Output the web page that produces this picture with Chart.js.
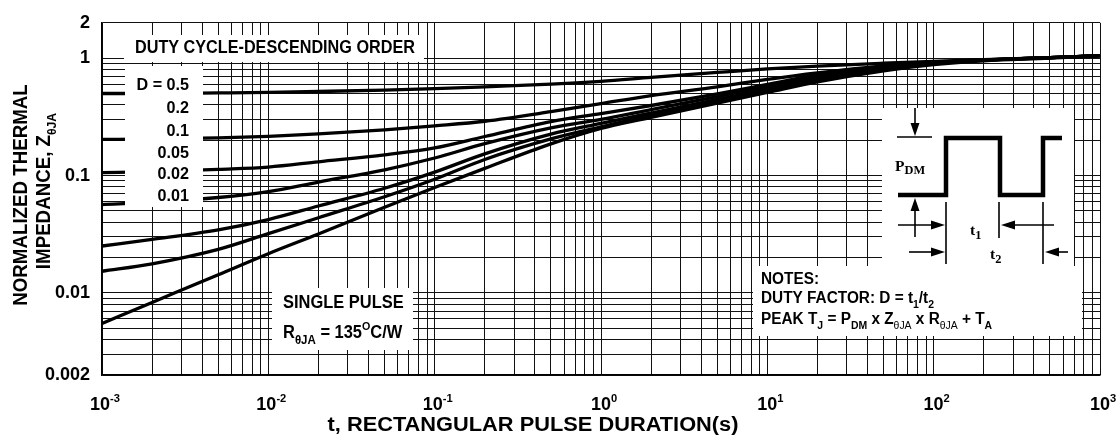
<!DOCTYPE html>
<html><head><meta charset="utf-8">
<script src="https://cdn.jsdelivr.net/npm/chart.js@4.4.0/dist/chart.umd.min.js"></script>
<style>html,body{margin:0;padding:0;background:#fff;}canvas{display:block;}</style>
</head><body>
<canvas id="c" width="1120" height="436"></canvas>
<script>
// ---- data ----
const pulseTimes = [0.001, 0.002, 0.005, 0.01, 0.02, 0.05, 0.1, 0.2, 0.5, 1, 2, 5, 10, 20, 50, 100, 200, 500, 1000];
const zD050 = [0.50, 0.50, 0.505, 0.51, 0.52, 0.535, 0.55, 0.57, 0.60, 0.635, 0.685, 0.755, 0.81, 0.855, 0.905, 0.94, 0.97, 1.01, 1.05];
const zD020 = [0.203, 0.205, 0.209, 0.216, 0.226, 0.245, 0.265, 0.29, 0.35, 0.41, 0.48, 0.57, 0.66, 0.75, 0.86, 0.925, 0.965, 1.01, 1.05];
const zD010 = [0.106, 0.108, 0.113, 0.118, 0.131, 0.150, 0.172, 0.215, 0.288, 0.337, 0.395, 0.495, 0.598, 0.72, 0.85, 0.92, 0.965, 1.01, 1.05];
const zD005 = [0.0566, 0.059, 0.065, 0.073, 0.088, 0.112, 0.141, 0.187, 0.255, 0.301, 0.365, 0.47, 0.571, 0.695, 0.83, 0.91, 0.96, 1.01, 1.05];
const zD002 = [0.0251, 0.0286, 0.0345, 0.0422, 0.055, 0.078, 0.107, 0.153, 0.225, 0.278, 0.341, 0.445, 0.544, 0.667, 0.81, 0.90, 0.96, 1.01, 1.05];
const zD001 = [0.0153, 0.0177, 0.0235, 0.032, 0.0437, 0.066, 0.093, 0.137, 0.205, 0.26, 0.327, 0.43, 0.53, 0.652, 0.80, 0.90, 0.96, 1.01, 1.05];
const zSingle = [0.0055, 0.0083, 0.0143, 0.0216, 0.0318, 0.0537, 0.079, 0.115, 0.186, 0.252, 0.313, 0.414, 0.51, 0.628, 0.78, 0.88, 0.95, 1.0, 1.05];
const seriesNames = ['D = 0.5', '0.2', '0.1', '0.05', '0.02', '0.01', 'SINGLE PULSE'];
const dutyLabels = ['D = 0.5', '0.2', '0.1', '0.05', '0.02', '0.01'];
const xDecadeExps = [-3, -2, -1, 0, 1, 2, 3];
const yLabelValues = [0.002, 0.01, 0.1, 1, 2];
const yLabelTexts = ['0.002', '0.01', '0.1', '1', '2'];
const X_MIN = 0.001, X_MAX = 1000, Y_MIN = 0.002, Y_MAX = 2;

// ---- grid tick lists (log grids) ----
const xGridTicks = [];
for (let e = -3; e < 3; e++) for (let m = 1; m <= 9; m++) xGridTicks.push(Number((m * Math.pow(10, e)).toPrecision(3)));
xGridTicks.push(1000);
const yGridTicks = [];
for (let m = 2; m <= 9; m++) yGridTicks.push(Number((m * 0.001).toPrecision(3)));
for (let e = -2; e < 0; e++) for (let m = 1; m <= 9; m++) yGridTicks.push(Number((m * Math.pow(10, e)).toPrecision(3)));
yGridTicks.push(1, 2);

const SANS = '"Liberation Sans", Arial, Helvetica, sans-serif';
const SERIF = '"Liberation Serif", "Times New Roman", Times, serif';

function segFont(s, size, fam) {
  const small = s.k === 'sub' || s.k === 'sup';
  const sz = small ? size * (s.r || 0.68) : size;
  return (s.w || 'bold') + ' ' + sz.toFixed(2) + 'px ' + (s.f || fam);
}
// draw mixed text; (x,y) = anchor with y at cap-middle
function rich(ctx, segs, x, y, size, opt) {
  opt = opt || {};
  const sx = opt.sx || 1, fam = opt.fam || SANS;
  ctx.save();
  ctx.translate(x, y);
  if (opt.rot) ctx.rotate(opt.rot);
  ctx.scale(sx, 1);
  let w = 0;
  for (const s of segs) { ctx.font = segFont(s, size, fam); w += ctx.measureText(s.t).width; }
  let cx = opt.align === 'center' ? -w / 2 : (opt.align === 'right' ? -w : 0);
  const base = size * 0.358;
  ctx.textBaseline = 'alphabetic';
  ctx.fillStyle = '#000';
  for (const s of segs) {
    ctx.font = segFont(s, size, fam);
    let dy = 0;
    if (s.k === 'sub') dy = size * (s.d || 0.3);
    if (s.k === 'sup') dy = -size * (s.d || 0.42);
    ctx.fillText(s.t, cx, base + dy);
    cx += ctx.measureText(s.t).width;
  }
  ctx.restore();
}
function arrow(ctx, x1, y1, x2, y2, head, half) {
  const a = Math.atan2(y2 - y1, x2 - x1);
  const bx = x2 - head * Math.cos(a), by = y2 - head * Math.sin(a);
  ctx.beginPath(); ctx.moveTo(x1, y1); ctx.lineTo(bx, by); ctx.stroke();
  ctx.beginPath();
  ctx.moveTo(x2, y2);
  ctx.lineTo(bx + half * Math.sin(a), by - half * Math.cos(a));
  ctx.lineTo(bx - half * Math.sin(a), by + half * Math.cos(a));
  ctx.closePath(); ctx.fill();
}
function line(ctx, x1, y1, x2, y2) { ctx.beginPath(); ctx.moveTo(x1, y1); ctx.lineTo(x2, y2); ctx.stroke(); }

const annotations = {
  id: 'annotations',
  afterDraw(chart) {
    const ctx = chart.ctx, xs = chart.scales.x;
    ctx.save();
    // white label boxes
    ctx.fillStyle = '#fff';
    [[124, 35, 300, 27], [125, 66, 78, 141], [272, 288, 141, 62], [882, 108, 192, 158], [753, 266, 329, 70]]
      .forEach(b => ctx.fillRect(b[0], b[1], b[2], b[3]));

    // duty cycle legend
    rich(ctx, [{t: 'DUTY CYCLE-DESCENDING ORDER'}], 135, 47, 18, {sx: 0.9});
    const dutyY = [84, 107, 130, 152, 173, 195];
    dutyLabels.forEach((l, i) => rich(ctx, [{t: l}], 189, dutyY[i], 17, {sx: 0.95, align: 'right'}));

    // single pulse box
    rich(ctx, [{t: 'SINGLE PULSE'}], 283, 302, 17.5, {sx: 0.94});
    rich(ctx, [{t: 'R'}, {t: '\u03b8JA', k: 'sub', r: 0.7}, {t: ' = 135'}, {t: 'O', k: 'sup', r: 0.65, d: 0.45}, {t: 'C/W'}], 283, 332, 17.5, {sx: 0.94});

    // notes
    rich(ctx, [{t: 'NOTES:'}], 761, 278, 16, {sx: 0.96});
    rich(ctx, [{t: 'DUTY FACTOR: D = t'}, {t: '1', k: 'sub'}, {t: '/t'}, {t: '2', k: 'sub'}], 761, 297, 16, {sx: 0.96});
    rich(ctx, [{t: 'PEAK T'}, {t: 'J', k: 'sub'}, {t: ' = P'}, {t: 'DM', k: 'sub'}, {t: ' x Z'}, {t: '\u03b8JA', k: 'sub', w: 'normal'},
               {t: ' x R'}, {t: '\u03b8JA', k: 'sub', w: 'normal'}, {t: ' + T'}, {t: 'A', k: 'sub'}], 761, 318, 16, {sx: 0.96});

    // waveform inset
    ctx.strokeStyle = '#000'; ctx.fillStyle = '#000';
    ctx.lineWidth = 4.5; ctx.lineJoin = 'miter'; ctx.lineCap = 'butt';
    ctx.beginPath();
    ctx.moveTo(898, 195); ctx.lineTo(946, 195); ctx.lineTo(946, 138); ctx.lineTo(1000, 138);
    ctx.lineTo(1000, 195); ctx.lineTo(1043, 195); ctx.lineTo(1043, 138); ctx.lineTo(1062, 138);
    ctx.stroke();
    ctx.lineWidth = 1.6;
    line(ctx, 897, 137, 932, 137);
    arrow(ctx, 915, 108, 915, 136, 13, 4.5);
    arrow(ctx, 915, 237, 915, 198, 13, 4.5);
    line(ctx, 946, 202, 946, 264);
    line(ctx, 999, 202, 999, 238);
    line(ctx, 1043, 202, 1043, 264);
    arrow(ctx, 898, 225, 945, 225, 14, 4.5);
    arrow(ctx, 1054, 225, 1001, 225, 14, 4.5);
    arrow(ctx, 909, 252, 945, 252, 14, 4.5);
    arrow(ctx, 1068, 252, 1045, 252, 14, 4.5);
    rich(ctx, [{t: 'P'}, {t: 'DM', k: 'sub', r: 0.8, d: 0.25}], 895, 165, 15.5, {fam: SERIF});
    rich(ctx, [{t: 't'}, {t: '1', k: 'sub', r: 0.8, d: 0.3}], 970, 229, 15.5, {fam: SERIF});
    rich(ctx, [{t: 't'}, {t: '2', k: 'sub', r: 0.8, d: 0.3}], 990, 253, 15.5, {fam: SERIF});

    // x tick labels (10^n)
    xDecadeExps.forEach(e => {
      const px = xs.getPixelForValue(Math.pow(10, e));
      rich(ctx, [{t: '10'}, {t: String(e), k: 'sup', r: 0.62, d: 0.45}], px + 3, 404, 18, {align: 'center'});
    });
    // axis titles
    rich(ctx, [{t: 't, RECTANGULAR PULSE DURATION(s)'}], 533, 424, 20, {align: 'center', sx: 1.09});
    rich(ctx, [{t: 'NORMALIZED THERMAL'}], 20, 195, 19.5, {align: 'center', rot: -Math.PI / 2, sx: 0.96});
    rich(ctx, [{t: 'IMPEDANCE, Z'}, {t: '\u03b8JA', k: 'sub', r: 0.65}], 43, 191, 19.5, {align: 'center', rot: -Math.PI / 2, sx: 0.96});
    ctx.restore();
  }
};

const allSeries = [zD050, zD020, zD010, zD005, zD002, zD001, zSingle];
const datasets = allSeries.map((arr, i) => ({
  label: seriesNames[i],
  data: pulseTimes.map((t, j) => ({x: t, y: arr[j]})),
  borderColor: '#000',
  borderWidth: 3.3,
  pointRadius: 0,
  fill: false,
  cubicInterpolationMode: 'monotone'
}));

new Chart(document.getElementById('c'), {
  type: 'line',
  data: {datasets},
  plugins: [annotations],
  options: {
    responsive: false,
    animation: false,
    devicePixelRatio: 1,
    layout: {padding: {left: 0, top: 11, right: 20, bottom: 0}},
    plugins: {legend: {display: false}, tooltip: {enabled: false}, title: {display: false}},
    scales: {
      x: {
        type: 'logarithmic', min: X_MIN, max: X_MAX,
        afterBuildTicks: s => { s.ticks = xGridTicks.map(v => ({value: v})); },
        afterFit: s => { s.height = 61; },
        ticks: {display: false},
        grid: {color: '#111', lineWidth: 1, drawTicks: false},
        border: {display: true, color: '#000', width: 1.5}
      },
      y: {
        type: 'logarithmic', min: Y_MIN, max: Y_MAX,
        afterBuildTicks: s => { s.ticks = yGridTicks.map(v => ({value: v})); },
        afterFit: s => { s.width = 102; },
        ticks: {
          autoSkip: false, padding: 12, color: '#000',
          font: {family: SANS, size: 18, weight: 'bold'},
          callback: v => {
            const k = yLabelValues.findIndex(l => Math.abs(v / l - 1) < 1e-6);
            return k >= 0 ? yLabelTexts[k] : '';
          }
        },
        grid: {color: '#111', lineWidth: 1, drawTicks: false},
        border: {display: true, color: '#000', width: 1.5}
      }
    }
  }
});
</script>
</body></html>
